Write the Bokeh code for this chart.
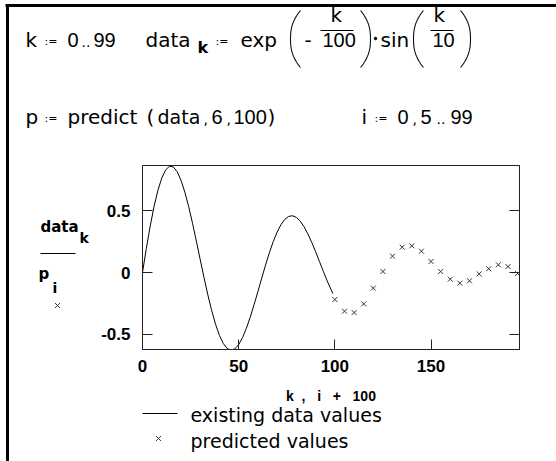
from bokeh.plotting import figure
from bokeh.models import LinearAxis, FixedTicker, CustomJSTickFormatter, Range1d
from bokeh.core.properties import value
from bokeh.embed import file_html
from bokeh.resources import INLINE
import numpy as np

# ---------------- data ----------------
k_values = [0, 2, 4, 6, 8, 10, 12, 14, 16, 18, 20, 22, 24, 26, 28, 30, 32, 34,
            36, 38, 40, 42, 44, 46, 48, 50, 52, 54, 56, 58, 60, 62, 64, 66, 68,
            70, 72, 74, 76, 78, 80, 82, 84, 86, 88, 90, 92, 94, 96, 98, 99]
data_values = [0.0, 0.1947, 0.3742, 0.5318, 0.6622, 0.7614, 0.8267, 0.8567,
               0.8518, 0.8134, 0.7445, 0.6488, 0.5313, 0.3975, 0.2532, 0.1045,
               -0.0424, -0.1819, -0.3087, -0.4184, -0.5073, -0.5727, -0.6129,
               -0.6273, -0.6164, -0.5816, -0.5252, -0.4503, -0.3606, -0.2601,
               -0.1534, -0.0447, 0.0615, 0.1610, 0.2505, 0.3263, 0.3863,
               0.4288, 0.4525, 0.4577, 0.4446, 0.4143, 0.3689, 0.3108, 0.2426,
               0.1676, 0.0888, 0.0097, -0.0668, -0.1375, -0.1700]
i_values = [0, 5, 10, 15, 20, 25, 30, 35, 40, 45, 50, 55, 60, 65, 70, 75, 80,
            85, 90, 95]
pred_values = [-0.218, -0.312, -0.323, -0.253, -0.126, 0.008, 0.132, 0.204,
               0.215, 0.172, 0.089, 0.008, -0.054, -0.086, -0.067, -0.011,
               0.030, 0.062, 0.048, -0.008]
x_ticks = [0, 50, 100, 150]
y_ticks = [-0.5, 0, 0.5]
y_tick_labels = ["-0.5", "0", "0.5"]
NB = "\u00a0"
x_label = "k" + NB * 2 + "," + NB * 3 + "i" + NB * 3 + "+" + NB * 3 + "100"
legend_labels = ["existing data values", "predicted values"]

# ---------------- page geometry (px) ----------------
PW, PH = 556, 461
FL, FR, FT, FB = 142, 519, 165, 349   # plot frame edges on the page
XMIN, XMAX = 0, 196
YMIN, YMAX = -0.621, 0.863
AX = "#222222"
WORD = "DejaVu Sans"
NUM = "Liberation Sans"

# ---------------- background sheet (texts, formula, legend) ----------------
bg = figure(width=PW, height=PH, output_backend="svg", toolbar_location=None,
            x_range=Range1d(0, PW), y_range=Range1d(PH, 0),
            x_axis_type=None, y_axis_type=None, min_border=0,
            outline_line_color=None, background_fill_color="white",
            border_fill_color="white")
bg.grid.visible = False


def txt(text, x, y, size=20, font=WORD, bold=False, align="left",
        baseline="alphabetic", color="black"):
    if baseline == "alphabetic":
        y = y - 0.4 * size   # compensate the glyph's baseline placement
    bg.text(x=[x], y=[y], text=[text], text_font=value(font),
            text_font_size=value(f"{size}px"),
            text_font_style="bold" if bold else "normal",
            text_align=align, text_baseline=baseline, text_color=color)


def ln(xs, ys, w=1, color="black"):
    bg.line(list(xs), list(ys), line_color=color, line_width=w)


def paren(x_end, x_mid, y0, y1):
    t = np.linspace(-1, 1, 31)
    ys = (y0 + y1) / 2 + t * (y1 - y0) / 2
    xs = x_mid + (x_end - x_mid) * np.abs(t) ** 2.4
    ln(xs, ys, w=1.1, color="#111111")


# outer region border
ln([7, 7], [4, PH], w=3)
ln([5, PW], [5, 5], w=3)

# k := 0 .. 99    data_k := exp(-k/100) . sin(k/10)
txt("k", 25, 47)
txt(":=", 44, 41, 11, baseline="middle")
txt("0", 67, 47, font=NUM)
txt("..", 81, 47, 14)
txt("99", 93, 47, font=NUM)
txt("data", 145, 47)
txt("k", 197, 53, 16, bold=True)
txt(":=", 215, 41, 11, baseline="middle")
txt("exp", 240, 47)
paren(300, 290, 10, 67)
txt("-", 304, 47)
txt("k", 330, 22)
ln([320, 353], [30, 30])
txt("100", 322, 47, font=NUM)
paren(360, 370, 10, 67)
bg.scatter([375], [38], size=2.5, color="black")
txt("sin", 380, 47)
paren(423, 413, 10, 67)
txt("k", 433, 22)
ln([430, 453], [30, 30])
txt("10", 432, 47, font=NUM)
paren(460, 470, 10, 67)

# p := predict(data, 6, 100)    i := 0, 5 .. 99
B2 = 124
txt("p", 25, B2)
txt(":=", 44, 118, 11, baseline="middle")
txt("predict", 67, B2)
txt("(", 146, B2)
txt("data", 157, B2, 19)
txt(",", 203, B2, 14)
txt("6", 211, B2, font=NUM)
txt(",", 226, B2, 14)
txt("100", 233, B2, font=NUM)
txt(")", 267, B2)
txt("i", 361, B2)
txt(":=", 374, 118, 11, baseline="middle")
txt("0", 397, B2, font=NUM)
txt(",", 412, B2, 14)
txt("5", 420, B2, font=NUM)
txt("..", 436, B2, 14)
txt("99", 450, B2, font=NUM)

# stacked y label: data_k over p_i
txt("data", 40, 232, 15, bold=True)
txt("k", 79, 243, 14, bold=True)
ln([40, 75], [253, 253])
txt("p", 38, 279, 15, bold=True)
txt("i", 52, 293, 14, bold=True)
bg.scatter([57], [305], marker="x", size=7, line_color="#333333",
           line_width=1)

# legend
ln([142, 177], [413, 413])
txt(legend_labels[0], 190, 422, 19)
bg.scatter([158], [438], marker="x", size=7, line_color="#333333",
           line_width=1)
txt(legend_labels[1], 190, 448, 19)

# ---------------- main plot (overlaid on the sheet) ----------------
p = figure(width=PW, height=PH, output_backend="svg", toolbar_location=None,
           x_range=Range1d(XMIN, XMAX), y_range=Range1d(YMIN, YMAX),
           min_border_left=FL, min_border_right=PW - FR,
           min_border_top=FT, min_border_bottom=PH - FB,
           background_fill_color=None, border_fill_color=None,
           styles={"position": "absolute", "left": "0px", "top": "0px"})
p.grid.visible = False
p.outline_line_color = AX
p.outline_line_width = 1

for ax in (p.xaxis[0], p.yaxis[0]):
    ax.major_tick_in = 10
    ax.major_tick_out = 0
    ax.minor_tick_line_color = None
    ax.axis_line_color = AX
    ax.major_tick_line_color = AX
    ax.major_label_text_font = NUM
    ax.major_label_text_font_style = "bold"
    ax.major_label_text_font_size = "17px"
    ax.major_label_text_color = "black"

p.xaxis.ticker = FixedTicker(ticks=x_ticks)
p.yaxis.ticker = FixedTicker(ticks=y_ticks)
p.yaxis.major_label_overrides = {t: s for t, s in zip(y_ticks, y_tick_labels)}
p.yaxis.major_label_standoff = 12
p.xaxis.major_label_standoff = 10
p.xaxis.axis_label = x_label
p.xaxis.axis_label_text_font = NUM
p.xaxis.axis_label_text_font_style = "bold"
p.xaxis.axis_label_text_font_size = "14px"
p.xaxis.axis_label_text_color = "black"
p.xaxis.axis_label_standoff = 13

rax = LinearAxis(ticker=FixedTicker(ticks=y_ticks),
                 formatter=CustomJSTickFormatter(code="return ''"),
                 major_tick_in=10, major_tick_out=0, major_label_standoff=0,
                 minor_tick_line_color=None, axis_line_color=AX,
                 major_tick_line_color=AX)
p.add_layout(rax, "right")

p.line(k_values, data_values, line_color="black", line_width=1)
x_pred = [i + 100 for i in i_values]
p.scatter(x_pred, pred_values, marker="x", size=7, line_color="#333333",
          line_width=1)

open("out.html", "w").write(file_html([bg, p], INLINE))
